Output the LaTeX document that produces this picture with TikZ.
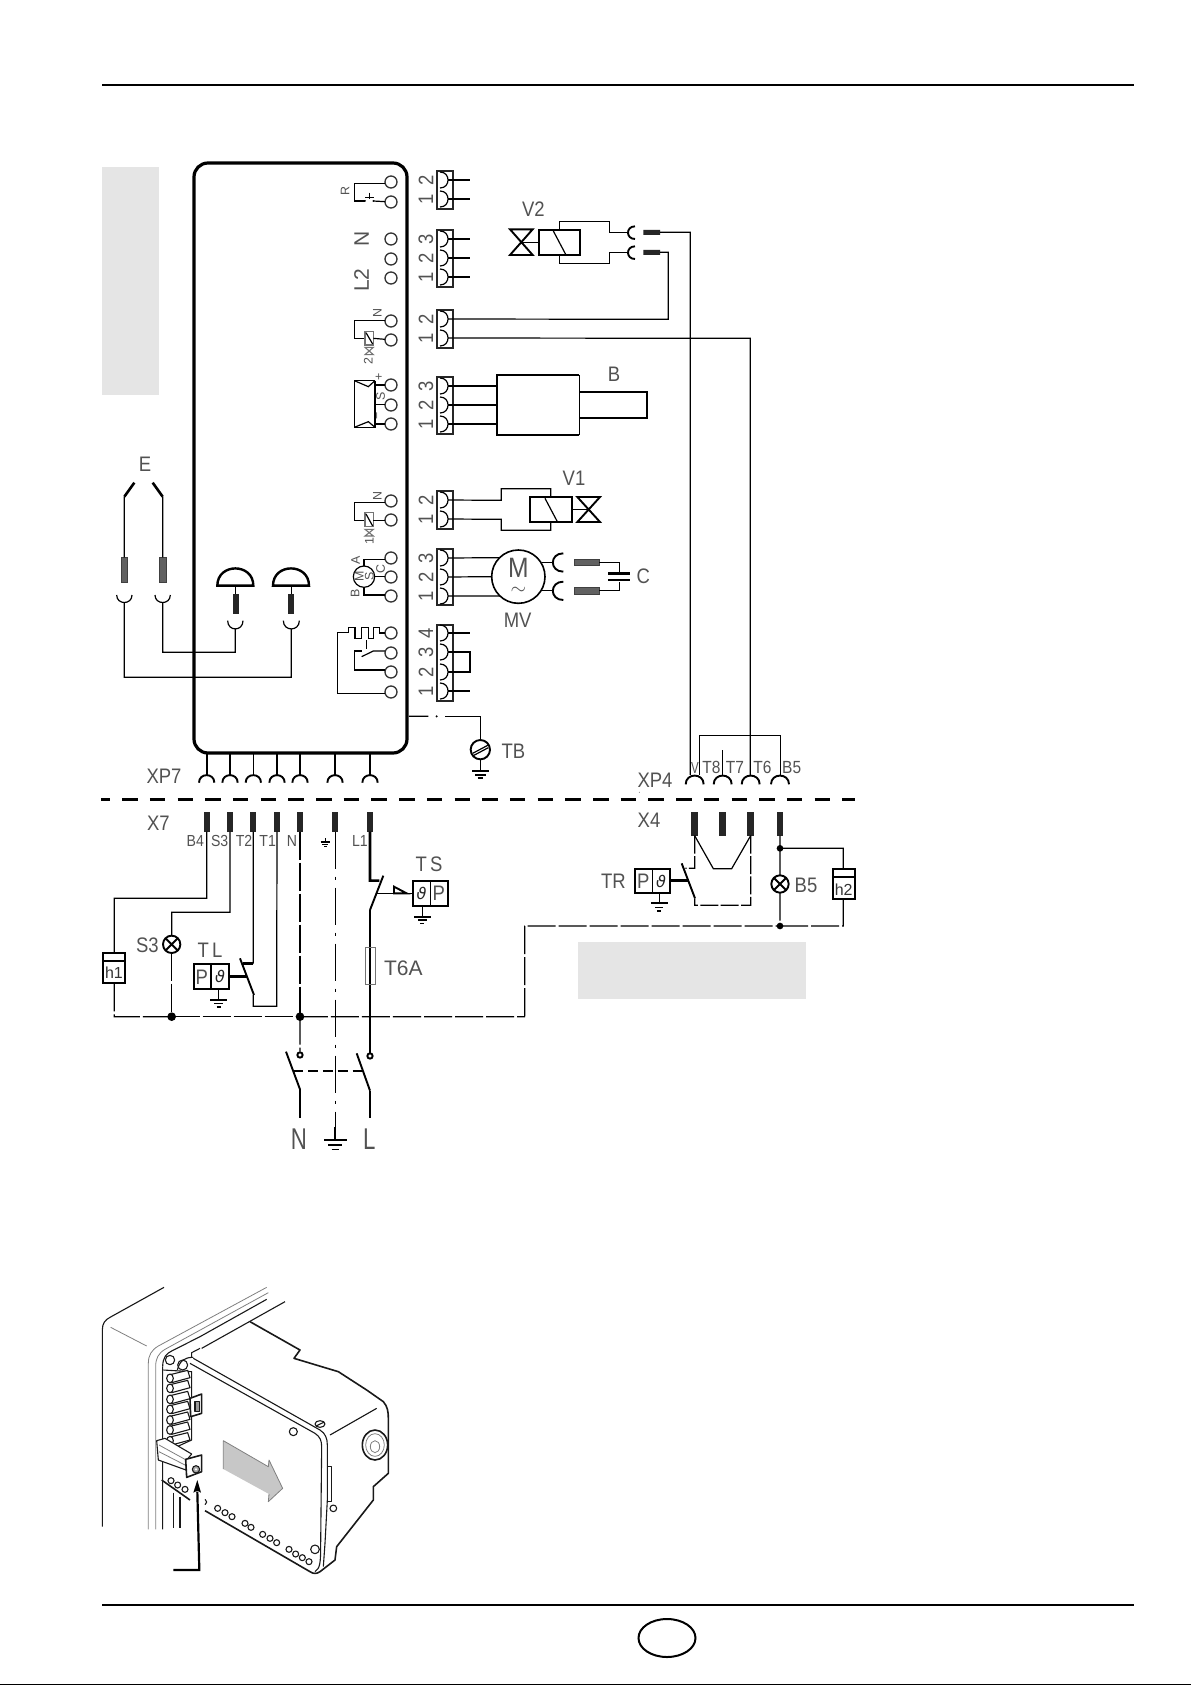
\documentclass[tikz,border=0pt]{standalone}
\usepackage{fontspec}
\usepackage{graphicx}
\setmainfont{Liberation Sans}
\newfontfamily\symfont{DejaVu Sans}
\definecolor{lbl}{gray}{0.32}
\definecolor{pan}{gray}{0.90}
\newcommand{\Nr}[1]{\scalebox{0.88}[1]{#1}}
\newcommand{\Nrb}[1]{\scalebox{0.74}[1]{#1}}
\tikzset{
 wire/.style={line width=0.6pt,line join=miter},
 hv/.style={line width=1.3pt,line join=miter},
 med/.style={line width=0.95pt,line join=miter},
 grw/.style={line width=0.55pt,draw=black!55},
 lng/.style={wire,dash pattern=on 14pt off 1.5pt},
 gnd/.style={wire,dash pattern=on 18.8pt off 3.7pt on 1.5pt off 4pt},
 lab/.style={inner sep=0pt,text=lbl,font=\fontsize{10.5}{11}\selectfont},
 labs/.style={lab,font=\fontsize{8}{9}\selectfont},
 labt/.style={lab,font=\fontsize{8.8}{9}\selectfont},
 labm/.style={lab,font=\fontsize{6.2}{7}\selectfont},
 labb/.style={lab,font=\fontsize{15}{16}\selectfont},
 zA/.style={shift={(90,150)},scale=0.33333},
 zB/.style={shift={(90,450)},scale=0.33333},
 zC/.style={shift={(480,150)},scale=0.33333},
 zD/.style={shift={(480,450)},scale=0.33333},
 zE/.style={shift={(90,780)},scale=0.33333},
 zF/.style={shift={(500,770)},scale=0.33333},
 zG/.style={shift={(90,1270)},scale=0.33333},
 term/.style={draw=black!80,line width=0.65pt,fill=white},
 blk/.style={fill=black!85,draw=none},
 hat/.style={fill=black!62,draw=black!75,line width=0.3pt},
 pho/.style={line width=0.55pt,line join=round,draw=black!90},
 phg/.style={line width=0.4pt,line join=round,draw=black!50}
}
\begin{document}
\begin{tikzpicture}[x=0.5pt,y=-0.5pt]
\useasboundingbox[fill=white] (0,0) rectangle (1191,1685);
% page rules
\draw[line width=1.1pt] (102,85) -- (1134,85);
\draw[line width=1.1pt] (102,1605) -- (1134,1605);
\draw[line width=0.7pt] (0,1684.5) -- (1191,1684.5);
\draw[line width=1pt] (667,1638) ellipse [x radius=28.5,y radius=19];
% grey panels
\fill[pan] (102,167) rectangle (159,395);
\fill[pan] (578,942) rectangle (806,999);
% board
\draw[line width=1.6pt,rounded corners=7pt] (194,163) rectangle (407,753);
% board terminals
\foreach \y in {182,202,239,259,278,321,340,385,405,424,501,520,558,577,596,633,653,672,692}
  \draw[term] (391,\y) circle [radius=6];
% plug blocks
\foreach \a/\b in {171/209,230/287,310/348,377/434,491/529,549/605,625/701}
  \draw[line width=1pt,draw=black!85] (437,\a) rectangle (453,\b);
\foreach \y in {180,199,239,258,277,319,338,386,405,424,500,519,558,577,596,633,652,672,691}{
  \draw[wire] (440,\y-8) .. controls (450.7,\y-8) and (450.7,\y+8) .. (440,\y+8);
  \coordinate (pin\y) at (448,\y);
}
% block digits
\foreach \y/\t in {180/2,199/1,239/3,258/2,277/1,319/2,338/1,386/3,405/2,424/1,500/2,519/1,558/3,577/2,596/1,633/4,652/3,672/2,691/1}
  \node[lab,rotate=90] at (426,\y) {\Nr{\t}};
% stubs
\foreach \y in {180,199,239,258,277,633,691} \draw[wire] (pin\y) -- (470,\y);
\coordinate (brg) at (470,652);
\draw[wire] (pin652) -- (brg) -- (470,672) -- (pin672);
% ---- internal symbols, upper
\begin{scope}[zA]
 \node[labm,rotate=90] (tR) at (765,122) {R};
 \node[lab,rotate=90] (tN1) at (815,268) {N};
 \node[lab,rotate=90] (tL2) at (815,390) {L2};
 \node[labm,rotate=90] (tN2) at (862,490) {N};
 \node[labm,rotate=90] (t22) at (835,632) {2};
 \node[labm,rotate=90] at (868,680) {+};
 \node[labm,rotate=90] at (872,740) {S};
 \node[labm,rotate=90] at (866,797) {\textminus};
 % R contact
 \draw[wire] (885,100) -- (793,100) -- (793,153) -- (825,153);
 \fill (825,153) circle [radius=3] (850,153) circle [radius=3];
 \draw[wire] (850,153) -- (885,155);
 \draw[wire] (825,142) -- (852,142) (838,128) -- (838,146);
 % valve 2 mini
 \draw[wire] (885,512) -- (793,512) -- (793,565) -- (825,565);
 \draw[grw] (825,545) rectangle (850,585);
 \draw[wire] (828,548) -- (848,582);
 \draw[wire] (850,565) -- (885,568);
 \draw[grw] (825,592) -- (850,592) -- (825,614) -- (850,614) -- cycle;
 % sensor
 \draw[wire] (855,692) -- (793,692) -- (793,832) -- (855,832) -- (855,692);
 \draw[wire] (793,692) -- (835,710) -- (855,692);
 \draw[wire] (793,832) -- (835,815) -- (855,832);
 \draw[wire] (855,705) -- (885,705) (855,764) -- (885,764) (855,822) -- (885,822);
\end{scope}
\begin{scope}[zB]
 \node[labm,rotate=90] at (862,137) {N};
 \node[labm,rotate=90] at (838,272) {1};
 \draw[wire] (885,157) -- (793,157) -- (793,211) -- (825,211);
 \draw[grw] (825,188) rectangle (850,230);
 \draw[wire] (828,192) -- (848,228);
 \draw[wire] (850,211) -- (885,211);
 \draw[grw] (825,238) -- (850,238) -- (825,258) -- (850,258) -- cycle;
 % mini motor
 \draw[wire] (822,380) circle [radius=32];
 \node[labm,rotate=90] at (797,332) {A};
 \node[labm,rotate=90] at (872,358) {C};
 \node[labm,rotate=90] at (795,430) {B};
 \node[labm,rotate=90] at (808,380) {M};
 \node[labm,rotate=90] at (838,380) {S};
 \draw[wire] (822,348) -- (822,328) -- (885,328);
 \draw[wire] (854,380) -- (885,380);
 \draw[wire] (822,412) -- (822,435) -- (885,435);
 % thermostat serpent
 \draw[wire] (885,549) -- (868,549) -- (868,533) -- (850,533) -- (850,565) -- (835,565) -- (835,533) -- (815,533) -- (815,565) -- (795,565) -- (795,533) -- (775,533) -- (775,547) -- (743,547) -- (743,730) -- (885,730);
 \draw[wire,dash pattern=on 5pt off 2pt] (830,570) -- (830,597);
 \draw[wire] (885,603) -- (850,603) -- (815,620);
 \draw[wire] (815,603) -- (793,603) -- (793,660) -- (885,660);
 % E electrodes
 \node[lab] (tE) at (165,42) {\Nr{E}};
 \draw[hv] (103,140) -- (133,98) (188,98) -- (218,140);
 \coordinate (e1) at (103,140); \coordinate (e2) at (218,140);
 \draw[hat] (94,322) rectangle (113,397) (209,322) rectangle (228,397);
 \draw[wire] (e1) -- (103,322) (e2) -- (218,322);
 % cups
 \draw[wire] (80,435) .. controls (80,465) and (126,465) .. (126,435);
 \draw[wire] (195,435) .. controls (195,465) and (241,465) .. (241,435);
 \draw[wire] (413,512) .. controls (413,545) and (459,545) .. (459,512);
 \draw[wire] (580,512) .. controls (580,545) and (628,545) .. (628,512);
 \coordinate (c1) at (103,459); \coordinate (c2) at (218,459);
 \coordinate (c3) at (436,537); \coordinate (c4) at (604,537);
 \draw[wire] (c1) -- (103,682) -- (604,682) -- (c4);
 \draw[wire] (c2) -- (218,607) -- (436,607) -- (c3);
 % domes
 \foreach \x in {436,603}{
  \draw[line width=1.2pt] (\x-54,407) .. controls (\x-54,338) and (\x+54,338) .. (\x+54,407) -- cycle;
  \draw[wire] (\x+1,407) -- (\x+1,432);
  \fill[blk] (\x-8,432) rectangle (\x+10,493);
 }
 % board bottom pins
 \foreach \x/\w in {350/med,420/med,490/wire,561/med,630/med,735/med,840/med}{
  \draw[\w] (\x,908) -- (\x,975);
  \draw[med] (\x-23,998) .. controls (\x-23,968) and (\x+23,968) .. (\x+23,998);
 }
 \node[lab] (tXP7) at (222,978) {\Nr{XP7}};
 % earth TB
 \coordinate (bE) at (957,799);
 \draw[wire] (bE) -- (1015,799);
 \fill (1040,799) circle [radius=3.5];
 \draw[wire] (1065,799) -- (1171,799) -- (1171,870);
 \draw[med,fill=white] (1171,899) circle [radius=29];
 \draw[wire] (1148,910) -- (1195,885) (1148,918) -- (1195,893);
 \draw[wire] (1171,928) -- (1171,962);
 \draw[med] (1146,964) -- (1197,964);
 \draw[wire] (1155,975) -- (1187,975);
 \draw[med] (1163,985) -- (1180,985);
\end{scope}
% ---- right upper
\begin{scope}[zC]
 \node[lab] (tV2) at (160,178) {\Nr{V2}};
 \draw[med] (90,238) -- (158,238) -- (90,315) -- (158,315) -- cycle;
 \draw[wire] (125,277) -- (176,277);
 \draw[med] (176,240) rectangle (300,315);
 \draw[wire] (220,243) -- (258,315);
 \draw[wire] (238,240) -- (238,214) -- (388,214) -- (388,247) -- (443,247);
 \draw[wire] (238,315) -- (238,340) -- (388,340) -- (388,307) -- (443,307);
 \draw[med] (465,229) .. controls (437,229) and (437,267) .. (465,267);
 \draw[med] (465,289) .. controls (437,289) and (437,327) .. (465,327);
 \fill[blk] (490,240) rectangle (540,255) (490,300) rectangle (540,315);
 \coordinate (v2a) at (540,247); \coordinate (v2b) at (540,307);
 \coordinate (b5top) at (565,508);
 \draw[wire] (v2b) -- (565,307) -- (b5top) -- (pin319);
 \coordinate (xp4a) at (631,1875);
 \coordinate (xp4c) at (811,1875);
 \draw[wire] (v2a) -- (631,247) -- (xp4a);
 \draw[wire] (pin338) -- (811,565) -- (xp4c);
 % B
 \draw[med] (298,856) -- (50,856) -- (50,675) -- (298,675);
 \draw[wire,fill=white] (298,675) -- (298,856);
 \draw[med] (298,726) -- (500,726) -- (500,803) -- (298,803);
 \node[lab] (tB) at (402,672) {\Nr{B}};
\end{scope}
\foreach \y in {386,405,424} \draw[wire] (pin\y) -- (497,\y);
% ---- V1 motor cap XP4
\begin{scope}[zD]
 \draw[wire] (pin500) -- (64,151) -- (64,116) -- (212,116) -- (212,141);
 \draw[wire] (pin519) -- (64,208) -- (64,241) -- (212,241) -- (212,215);
 \draw[med] (149,141) rectangle (277,215);
 \draw[wire] (195,145) -- (232,215);
 \draw[wire] (277,178) -- (325,178);
 \draw[med] (292,141) -- (360,141) -- (292,216) -- (360,216) -- cycle;
 \node[lab] (tV1) at (282,85) {\Nr{V1}};
 \draw[line width=0.8pt] (115,380) circle [radius=80];
 \coordinate (mA) at (60,323); \coordinate (mB) at (35,380); \coordinate (mC) at (60,438);
 \draw[wire] (pin558) -- (mA) (pin577) -- (mB) (pin596) -- (mC);
 \node[font=\fontsize{14}{15}\selectfont,text=lbl,inner sep=0pt] (tM) at (115,354) {\Nr{M}};
 \node[font=\fontsize{10}{10}\selectfont,text=lbl,inner sep=0pt] (tTilde) at (115,422) {$\sim$};
 \node[lab] (tMV) at (113,510) {\Nr{MV}};
 \draw[wire] (187,337) -- (218,337) (187,422) -- (218,422);
 \draw[med] (250,310) .. controls (208,310) and (208,365) .. (250,365);
 \draw[med] (250,395) .. controls (208,395) and (208,450) .. (250,450);
 \draw[hat] (282,328) rectangle (358,347) (282,412) rectangle (358,432);
 \draw[wire] (358,337) -- (418,337) -- (418,368) (358,422) -- (418,422) -- (418,395);
 \draw[hv] (384,370) -- (450,370) (384,390) -- (450,390);
 \node[lab] (tC) at (490,380) {\Nr{C}};
 \node[lab] (tTB) at (100,905) {\Nr{TB}};
 \node[lab] (tXP4) at (525,990) {\Nr{XP4}};
 \fill[black!60] (478,1027) circle [radius=1.5];
 \draw[wire] (658,975) -- (658,856) -- (901,856) -- (901,975);
 \draw[wire] (727,900) -- (727,975);
 \foreach \x in {644,728,812,900}
  \draw[med] (\x-27,1003) .. controls (\x-27,968) and (\x+27,968) .. (\x+27,1003);
 \node[labs] at (645,955) {\scalebox{0.72}[1]{V}};
 \node[labt] at (694,952) {\Nr{T8}};
 \node[labt] at (765,952) {\Nr{T7}};
 \node[labt] at (847,952) {\Nr{T6}};
 \node[labt] at (935,952) {\Nr{B5}};
\end{scope}
% main separator
\draw[line width=1.5pt,dash pattern=on 7.75pt off 6.1pt,dash phase=3.3pt] (101,799) -- (855,799);
% ---- lower left
\begin{scope}[zE]
 \node[lab] (tX7) at (205,130) {\Nr{X7}};
 \foreach \x/\n in {350/xa,420/xb,490/xc,561/xd,630/xe,735/xf,840/xg}{
  \fill[blk] (\x-9,97) rectangle (\x+9,155);
  \coordinate (\n) at (\x,155);
 }
 \node[labs] at (316,183) {\Nr{B4}};
 \node[labs] at (389,183) {\Nr{S3}};
 \node[labs] at (462,183) {\Nr{T2}};
 \node[labs] at (533,183) {\Nr{T1}};
 \node[labs] at (606,183) {\Nr{N}};
 \node[labs] at (810,183) {\Nr{L1}};
 % small earth
 \draw[wire] (706,175) -- (706,186) (692,186) -- (720,186) (697,193) -- (715,193) (702,200) -- (710,200);
 % h1
 \coordinate (h1t) at (73,518); \coordinate (h1b) at (73,610);
 \draw[wire] (xa) -- (350,355) -- (73,355) -- (h1t);
 \draw[med] (38,518) rectangle (105,610);
 \draw[med] (38,543) -- (105,543);
 \node[labs,text=black!80] (th1) at (72,578) {h1};
 % S3
 \coordinate (l3t) at (245,468); \coordinate (l3b) at (245,518);
 \draw[wire] (xb) -- (420,397) -- (245,397) -- (l3t);
 \draw[med] (245,493) circle [radius=26];
 \draw[med] (227,475) -- (263,511) (227,511) -- (263,475);
 \node[lab] (tS3) at (172,495) {\Nr{S3}};
 % TL
 \node[lab] (tTL) at (360,510) {\Nr{T\,L}};
 \draw[med] (311,551) rectangle (416,627);
 \draw[wire] (363,551) -- (363,627);
 \node[lab] (tP1) at (335,592) {\Nr{P}};
 \node[font=\symfont\fontsize{8}{9}\selectfont,text=black!85,inner sep=0pt] at (390,590) {\textit{ϑ}};
 \draw[hv] (416,590) -- (472,590);
 \draw[wire] (386,627) -- (386,658);
 \draw[med] (360,660) -- (411,660);
 \draw[wire] (372,670) -- (400,670) (380,681) -- (393,681);
 % switch T2 T1
 \draw[med] (450,535) -- (492,645);
 \draw[wire] (xc) -- (490,551);
 \draw[hv] (490,551) -- (458,551);
 \draw[wire] (xd) -- (560,679) -- (490,679) -- (490,645);
 % neutral bus
 \coordinate (dS3) at (245,710); \coordinate (dN) at (630,710);
 \draw[lng] (h1b) -- (73,710) -- (dS3);
 \draw[lng] (l3b) -- (dS3);
 \draw[lng] (dS3) -- (dN);
 \draw[lng] (xe) -- (dN);
 \draw[lng] (dN) -- (630,815);
 \draw[lng] (dN) -- (1305,710);
 \fill (dS3) circle [radius=13]; \fill (dN) circle [radius=13];
 \draw[med,fill=white] (630,825) circle [radius=8];
 \draw[med] (588,815) -- (630,928);
 \draw[hv] (630,928) -- (630,1015);
 % earth
 \draw[gnd] (736,155) -- (736,1040);
 \draw[med] (736,1040) -- (736,1080);
 \draw[med] (703,1080) -- (770,1080);
 \draw[wire] (715,1095) -- (757,1095) (725,1108) -- (747,1108);
 % L
 \draw[hv] (xg) -- (840,302) -- (868,302);
 \draw[med] (880,287) -- (840,390);
 \draw[hv] (840,390) -- (840,820);
 \draw[grw] (826,503) rectangle (856,613);
 \draw[med,fill=white] (840,828) circle [radius=8];
 \draw[med] (800,820) -- (840,932);
 \draw[hv] (840,932) -- (840,1015);
 \draw[med,dash pattern=on 5pt off 2.4pt] (610,873) -- (820,873);
 % TS
 \draw[wire] (862,340) -- (967,340);
 \draw[med,fill=white] (912,340) -- (912,320) -- (950,340) -- cycle;
 \draw[med] (968,302) rectangle (1073,378);
 \draw[wire] (1021,302) -- (1021,378);
 \node[font=\symfont\fontsize{8}{9}\selectfont,text=black!85,inner sep=0pt] at (995,340) {\textit{ϑ}};
 \node[lab] (tP2) at (1046,340) {\Nr{P}};
 \node[lab] (tTS) at (1017,253) {\Nr{T\,S}};
 \draw[wire] (997,378) -- (997,408);
 \draw[med] (972,410) -- (1022,410);
 \draw[wire] (985,420) -- (1010,420) (990,430) -- (1003,430);
 \node[lab] (tT6A) at (940,565) {T6A};
 \node[labb] (tN) at (627,1078) {\Nrb{N}};
 \node[labb] (tL) at (838,1078) {\Nrb{L}};
\end{scope}
% ---- lower right
\begin{scope}[zF]
 \node[lab] (tX4) at (447,152) {\Nr{X4}};
 \foreach \x/\n in {584/ya,668/yb,752/yc,840/yd}{
  \fill[blk] (\x-10,127) rectangle (\x+10,197);
  \coordinate (\n) at (\x,197);
 }
 \node[lab] (tTR) at (340,335) {\Nr{TR}};
 \draw[med] (404,296) rectangle (511,370);
 \draw[wire] (457,296) -- (457,370);
 \node[lab] (tP3) at (430,333) {\Nr{P}};
 \node[font=\symfont\fontsize{8}{9}\selectfont,text=black!85,inner sep=0pt] at (483,333) {\textit{ϑ}};
 \draw[hv] (511,332) -- (565,332);
 \draw[med] (545,280) -- (585,385);
 \draw[wire] (478,370) -- (478,400);
 \draw[med] (453,400) -- (503,400);
 \draw[wire] (465,412) -- (490,412) (472,423) -- (484,423);
 \draw[lng,dash pattern=on 9pt off 1.2pt] (ya) -- (584,295) -- (556,295);
 \draw[wire] (ya) -- (640,296) -- (695,296) -- (yc);
 \draw[lng,dash pattern=on 9pt off 1.2pt] (yc) -- (752,406) -- (584,406) -- (584,385);
 \coordinate (dB5a) at (840,235); \coordinate (dB5b) at (840,468);
 \draw[wire] (yd) -- (dB5a) -- (1030,235) -- (1030,296);
 \draw[med] (998,296) rectangle (1066,388);
 \draw[med] (998,320) -- (1066,320);
 \node[labs,text=black!80] (th2) at (1031,358) {h2};
 \draw[wire] (dB5a) -- (840,316);
 \draw[med] (840,342) circle [radius=26];
 \draw[med] (822,324) -- (858,360) (822,360) -- (858,324);
 \node[lab] (tB5) at (918,345) {\Nr{B5}};
 \draw[lng] (840,368) -- (dB5b);
 \draw[lng] (74,738) -- (74,468) -- (dB5b);
 \draw[lng] (dB5b) -- (1030,468) -- (1030,388);
 \fill (dB5a) circle [radius=10]; \fill (dB5b) circle [radius=10];
\end{scope}
% ---- device sketch
\begin{scope}[zG]
 \draw[pho] (222,52) -- (60,142) .. controls (45,150) and (37,160) .. (37,180) -- (37,770);
 \draw[phg] (62,172) -- (170,228);
 \draw[phg] (530,52) -- (205,228) .. controls (185,240) and (175,255) .. (175,280) -- (175,778);
 \draw[phg] (535,68) -- (225,238) .. controls (205,250) and (197,265) .. (197,290) -- (197,778);
 \draw[pho] (585,95) -- (335,235) (218,290) -- (218,778);
 \draw[pho] (218,290) .. controls (218,262) and (230,250) .. (245,243) -- (330,200) -- (530,88);
 % module body
 \draw[pho,line width=0.8pt] (480,155) -- (630,240) -- (612,265) -- (745,305) -- (830,360) -- (880,395) .. controls (893,410) and (895,425) .. (895,445) -- (895,610) -- (850,650) -- (850,690) -- (740,830) -- (735,870) -- (690,905) .. controls (680,912) and (670,912) .. (660,905);
 \draw[pho] (720,495) -- (860,415);
 \draw[pho,line width=0.8pt] (345,722) -- (660,905);
 \draw[pho] (300,280) -- (675,490) .. controls (690,500) and (695,512) .. (695,530) -- (692,825) .. controls (692,880) and (690,895) .. (675,905);
 \draw[pho] (310,265) -- (690,480) .. controls (706,490) and (712,505) .. (712,525) -- (712,690) -- (705,820) -- (700,890);
 \draw[pho] (712,590) rectangle (725,695);
 \draw[pho,line width=0.8pt] (855,525) ellipse [x radius=38,y radius=45];
 \draw[phg] (855,525) ellipse [x radius=28,y radius=34];
 \draw[phg] (855,530) ellipse [x radius=14,y radius=18];
 \draw[pho,fill=white] (690,462) ellipse [x radius=15,y radius=10];
 \draw[pho] (678,468) -- (703,456);
 \foreach \p/\r in {{(610,485)}/12,{(730,715)}/10,{(675,838)}/13}
   \draw[pho,fill=white] \p circle [radius=\r];
 % grey arrow
 \fill[black!22] (400,512) -- (535,590) -- (537,570) -- (578,655) -- (535,695) -- (537,672) -- (400,597) -- cycle;
 \draw[phg] (400,597) -- (400,512) -- (535,590) -- (537,570) -- (578,655) -- (535,695) -- (537,672);
 % holes
 \foreach \x/\y in {243/632,263/645,285/658,383/715,405/728,426/740,465/760,483/772,518/793,540/805,560/818,597/838,617/852,637/863,657/875}
   \draw[pho] (\x,\y) circle [radius=9];
 \draw[pho] (345,688) .. controls (352,692) and (352,700) .. (345,704);
 \draw[pho,line width=0.8pt] (215,630) -- (300,690);
 \draw[pho] (250,668) -- (250,775) (270,680) -- (270,775);
 % hinge circles
 \draw[pho] (240,270) circle [radius=14];
 \draw[pho,fill=white] (278,285) circle [radius=15];
 \draw[pho] (262,300) .. controls (270,270) and (285,262) .. (310,262) (305,262) -- (305,248) -- (330,235);
 % terminal strip
 \draw[pho] (220,300) -- (305,305) -- (305,510) -- (250,535);
 \foreach \y in {325,355,388,418,450,480,512}{
   \draw[pho,fill=white] (240,\y-11) -- (293,\y-24) -- (300,\y-2) -- (245,\y+13) -- cycle;
   \draw[pho,fill=white] (240,\y) ellipse [x radius=10,y radius=13];
 }
 % clip
 \draw[pho,line width=0.8pt,fill=white] (300,385) -- (335,372) -- (335,430) -- (302,440) -- cycle;
 \draw[pho,fill=black!40] (315,395) rectangle (328,425);
 % plug
 \draw[pho,fill=white] (200,512) -- (225,505) -- (305,552) -- (290,570) -- (288,600) -- (205,570) -- cycle;
 \draw[phg] (207,525) -- (285,568) (207,545) -- (285,585);
 \draw[pho,line width=0.8pt,fill=white] (287,568) -- (335,555) -- (335,605) -- (290,622) -- cycle;
 \draw[pho,fill=black!35] (318,598) circle [radius=11];
 \fill[white] (318,598) circle [radius=4];
 % pointer
 \coordinate (ptA) at (250,900);
 \coordinate (ptB) at (322,665);
 \draw[line width=1.1pt] (ptA) -- (328,900) -- (ptB);
 \fill (310,668) -- (322,630) -- (333,668) -- (322,662) -- cycle;
\end{scope}
\end{tikzpicture}
\end{document}
